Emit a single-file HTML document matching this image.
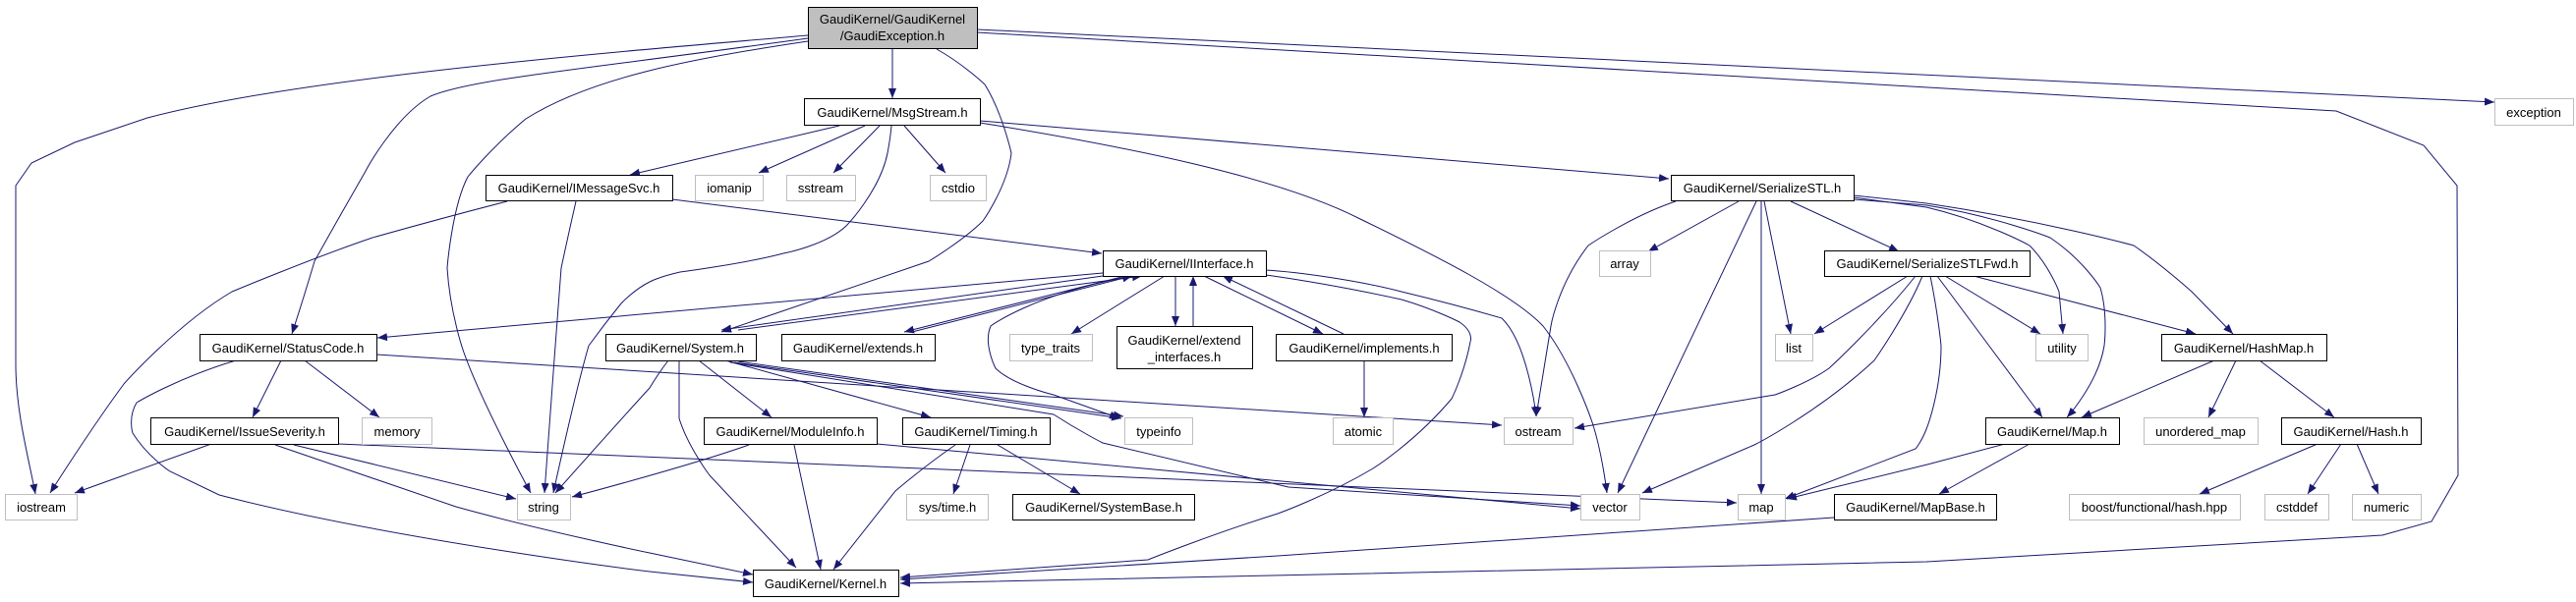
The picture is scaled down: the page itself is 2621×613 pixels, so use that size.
<!DOCTYPE html>
<html><head><meta charset="utf-8"><style>
html,body{margin:0;padding:0;background:#fff;}
svg{display:block;}
text{font-family:"Liberation Sans",Arial,sans-serif;font-size:13px;fill:#000;}
</style></head><body>
<svg width="2621" height="613" viewBox="0 0 2621 613" xmlns="http://www.w3.org/2000/svg">
<defs>
<marker id="a" viewBox="0 0 10 8" refX="10" refY="4" markerWidth="10" markerHeight="8" markerUnits="userSpaceOnUse" orient="auto">
<path d="M0,0 L10,4 L0,8 z" fill="#191970"/>
</marker>
</defs>
<g fill="none" stroke="#191970" stroke-width="1" marker-end="url(#a)">
<!-- Exception.h -->
<path d="M908,49 L908,100"/>
<path d="M822,36 C600,55 300,80 150,120 L76,145 L32,166 L16,189 L16,371 C16,420 30,470 36,503"/>
<path d="M822,42 C700,60 600,80 535,121 C500,150 476,180 476,180 C460,210 455,273 455,273 C458,320 472,359 472,359 C490,410 540,502 540,502"/>
<path d="M822,39 C600,70 480,80 438,98 C400,120 371,176 371,176 C340,230 320,266 320,266 C310,300 297,340 297,340"/>
<path d="M953,50 C980,65 1002,86 1002,86 C1020,115 1029,156 1029,156 C1025,190 1000,225 1000,225 C980,245 945,266 945,266 L734,338"/>
<path d="M994,30 L2538,104"/>
<path d="M994,33 L2377,113 L2466,148 L2500,189 L2501,484 L2474,531 L2424,545 L1960,572 L916,594"/>
<!-- MsgStream.h -->
<path d="M854,128 L641,178"/>
<path d="M880,128 L772,176"/>
<path d="M895,128 L848,176"/>
<path d="M920,128 L962,176"/>
<path d="M907,128 C906,140 903,156 903,156 C895,195 861,230 861,230 C840,250 797,258 797,258 C760,268 692,277 692,277 C670,282 661,287 661,287 C645,295 632,309 632,309 C615,330 599,352 599,352 C585,400 563,502 563,502"/>
<path d="M997,123 L1698,182"/>
<path d="M997,125 C1150,150 1300,180 1384,223 C1460,260 1540,300 1570,332 C1600,370 1620,430 1620,430 C1630,460 1635,502 1635,502"/>
<!-- IMessageSvc.h -->
<path d="M516,205 C450,222 379,242 379,242 C320,262 236,297 236,297 C180,330 126,391 126,391 C90,440 51,502 51,502"/>
<path d="M586,205 C578,240 571,273 571,273 C565,350 554,502 554,502"/>
<path d="M684,203 L1121,258"/>
<!-- IInterface.h -->
<path d="M1122,278 L384,344"/>
<path d="M1122,281 L734,336"/>
<path d="M751,336 L1162,281"/>
<path d="M1145,281 L920,338"/>
<path d="M928,338 L1152,281"/>
<path d="M1185,281 L1090,340"/>
<path d="M1196,281 L1196,332"/>
<path d="M1214,332 L1214,281"/>
<path d="M1225,281 L1346,340"/>
<path d="M1367,340 L1244,281"/>
<path d="M1152,281 C1050,300 1008,332 1008,332 C1000,350 1013,375 1013,375 C1030,392 1072,402 1072,402 L1139,426"/>
<path d="M1288,275 C1320,277 1380,285 1426,297 C1480,310 1528,324 1528,324 C1555,350 1563,424 1563,424"/>
<path d="M1288,280 C1360,290 1426,305 1426,305 C1460,315 1485,328 1485,328 C1500,338 1496,348 1496,348 C1490,380 1477,406 1477,406 C1440,450 1397,477 1397,477 C1350,505 1300,523 1300,523 C1230,545 1168,570 1168,570 L916,588"/>
<!-- StatusCode.h -->
<path d="M286,367 L257,425"/>
<path d="M310,367 L386,425"/>
<path d="M240,367 C180,385 139,410 139,410 C130,425 135,441 135,441 C150,465 173,480 173,480 L223,504 C400,550 661,582 661,582 L766,593"/>
<path d="M383,361 L1528,433"/>
<!-- IssueSeverity.h -->
<path d="M215,452 L76,502"/>
<path d="M299,453 L525,508"/>
<path d="M280,453 L464,516 C550,540 661,563 661,563 L766,585"/>
<path d="M344,452 L1767,512"/>
<!-- System.h -->
<path d="M680,367 C670,380 661,395 661,395 C620,440 565,502 565,502"/>
<path d="M691,367 C691,395 691,426 691,426 C700,455 722,484 722,484 L810,578"/>
<path d="M711,367 L785,425"/>
<path d="M738,367 L947,425"/>
<path d="M747,369 L1141,426"/>
<path d="M751,368 L1143,424"/>
<path d="M743,369 L1072,422 C1100,440 1122,451 1122,451 L1311,496 L1608,515"/>
<!-- ModuleInfo.h -->
<path d="M762,453 C700,475 582,506 582,506"/>
<path d="M808,453 L835,580"/>
<path d="M892,452 L1608,518"/>
<!-- Timing.h -->
<path d="M972,453 C940,475 911,500 911,500 L848,580"/>
<path d="M987,453 L970,503"/>
<path d="M1015,453 L1099,503"/>
<!-- implements -->
<path d="M1388,367 L1388,425"/>
<!-- SerializeSTL.h -->
<path d="M1769,205 L1677,256"/>
<path d="M1705,205 C1660,220 1616,250 1616,250 C1585,290 1578,332 1578,332 L1563,424"/>
<path d="M1787,205 L1646,502"/>
<path d="M1792,205 L1792,503"/>
<path d="M1795,205 L1822,340"/>
<path d="M1822,205 L1932,256"/>
<path d="M1886,201 L1960,211 C2020,225 2065,250 2065,250 C2085,270 2095,297 2095,297 L2099,340"/>
<path d="M1886,203 L1960,209 C2030,220 2086,242 2086,242 C2120,265 2137,293 2137,293 C2145,320 2141,352 2141,352 C2135,390 2103,425 2103,425"/>
<path d="M1886,199 L1960,207 C2080,225 2171,250 2171,250 C2200,270 2230,297 2230,297 L2272,340"/>
<!-- SerializeSTLFwd.h -->
<path d="M1941,281 L1846,340"/>
<path d="M1949,281 C1910,330 1861,375 1861,375 C1840,390 1806,402 1806,402 L1602,436"/>
<path d="M1956,281 C1940,320 1907,367 1907,367 C1850,420 1785,453 1785,453 L1671,502"/>
<path d="M1964,281 C1972,320 1975,352 1975,352 C1975,400 1960,437 1960,437 C1955,450 1949,457 1949,457 L1816,508"/>
<path d="M1979,281 L2076,340"/>
<path d="M1971,281 L2078,425"/>
<path d="M2008,281 L2234,340"/>
<!-- HashMap.h -->
<path d="M2253,367 L2118,425"/>
<path d="M2275,367 L2247,425"/>
<path d="M2299,367 L2375,425"/>
<!-- Map.h -->
<path d="M2040,452 L1961,473 L1818,508"/>
<path d="M2065,452 L1973,503"/>
<!-- MapBase.h -->
<path d="M1866,527 L1300,566 L916,590"/>
<!-- Hash.h -->
<path d="M2358,452 L2238,503"/>
<path d="M2382,452 L2348,503"/>
<path d="M2398,452 L2420,503"/>
</g>
<g stroke-width="1">
<!-- black boxes -->
<rect x="822.5" y="7.5" width="172" height="42" fill="#bfbfbf" stroke="#000"/>
<rect x="818.5" y="100.5" width="179" height="27" fill="#fff" stroke="#000"/>
<rect x="494.5" y="178.5" width="190" height="26" fill="#fff" stroke="#000"/>
<rect x="1122.5" y="255.5" width="166" height="26" fill="#fff" stroke="#000"/>
<rect x="203.5" y="340.5" width="180" height="27" fill="#fff" stroke="#000"/>
<rect x="616.5" y="340.5" width="153" height="27" fill="#fff" stroke="#000"/>
<rect x="795.5" y="340.5" width="156" height="27" fill="#fff" stroke="#000"/>
<rect x="1136.5" y="332.5" width="138" height="43" fill="#fff" stroke="#000"/>
<rect x="1298.5" y="340.5" width="179" height="27" fill="#fff" stroke="#000"/>
<rect x="153.5" y="425.5" width="191" height="27" fill="#fff" stroke="#000"/>
<rect x="716.5" y="425.5" width="176" height="27" fill="#fff" stroke="#000"/>
<rect x="918.5" y="425.5" width="150" height="27" fill="#fff" stroke="#000"/>
<rect x="1030.5" y="503.5" width="185" height="26" fill="#fff" stroke="#000"/>
<rect x="766.5" y="580.5" width="148" height="27" fill="#fff" stroke="#000"/>
<rect x="1700.5" y="178.5" width="186" height="26" fill="#fff" stroke="#000"/>
<rect x="1856.5" y="255.5" width="209" height="26" fill="#fff" stroke="#000"/>
<rect x="1866.5" y="503.5" width="165" height="26" fill="#fff" stroke="#000"/>
<rect x="2199.5" y="340.5" width="168" height="27" fill="#fff" stroke="#000"/>
<rect x="2020.5" y="425.5" width="136" height="27" fill="#fff" stroke="#000"/>
<rect x="2321.5" y="425.5" width="142" height="27" fill="#fff" stroke="#000"/>
<!-- gray boxes -->
<g fill="#fff" stroke="#bfbfbf">
<rect x="707.5" y="178.5" width="69" height="26"/>
<rect x="800.5" y="178.5" width="70" height="26"/>
<rect x="946.5" y="178.5" width="57" height="26"/>
<rect x="1027.5" y="340.5" width="84" height="27"/>
<rect x="368.5" y="425.5" width="71" height="27"/>
<rect x="1144.5" y="425.5" width="69" height="27"/>
<rect x="5.5" y="503.5" width="73" height="26"/>
<rect x="526.5" y="503.5" width="54" height="26"/>
<rect x="922.5" y="503.5" width="83" height="26"/>
<rect x="1627.5" y="255.5" width="52" height="26"/>
<rect x="1806.5" y="340.5" width="38" height="27"/>
<rect x="1356.5" y="425.5" width="61" height="27"/>
<rect x="1530.5" y="425.5" width="70" height="27"/>
<rect x="1608.5" y="503.5" width="60" height="26"/>
<rect x="1768.5" y="503.5" width="48" height="26"/>
<rect x="2071.5" y="340.5" width="53" height="27"/>
<rect x="2181.5" y="425.5" width="116" height="27"/>
<rect x="2105.5" y="503.5" width="174" height="26"/>
<rect x="2304.5" y="503.5" width="65" height="26"/>
<rect x="2393.5" y="503.5" width="70" height="26"/>
<rect x="2538.5" y="100.5" width="80" height="27"/>
</g>
</g>
<g text-anchor="middle">
<text x="908" y="24">GaudiKernel/GaudiKernel</text>
<text x="908" y="41">/GaudiException.h</text>
<text x="908" y="119">GaudiKernel/MsgStream.h</text>
<text x="589" y="196">GaudiKernel/IMessageSvc.h</text>
<text x="1205" y="273">GaudiKernel/IInterface.h</text>
<text x="293" y="359">GaudiKernel/StatusCode.h</text>
<text x="692" y="359">GaudiKernel/System.h</text>
<text x="873" y="359">GaudiKernel/extends.h</text>
<text x="1205" y="351">GaudiKernel/extend</text>
<text x="1205" y="368">_interfaces.h</text>
<text x="1388" y="359">GaudiKernel/implements.h</text>
<text x="249" y="444">GaudiKernel/IssueSeverity.h</text>
<text x="804" y="444">GaudiKernel/ModuleInfo.h</text>
<text x="993" y="444">GaudiKernel/Timing.h</text>
<text x="1123" y="521">GaudiKernel/SystemBase.h</text>
<text x="840" y="599">GaudiKernel/Kernel.h</text>
<text x="1793" y="196">GaudiKernel/SerializeSTL.h</text>
<text x="1961" y="273">GaudiKernel/SerializeSTLFwd.h</text>
<text x="1949" y="521">GaudiKernel/MapBase.h</text>
<text x="2283" y="359">GaudiKernel/HashMap.h</text>
<text x="2088" y="444">GaudiKernel/Map.h</text>
<text x="2392" y="444">GaudiKernel/Hash.h</text>
<text x="742" y="196">iomanip</text>
<text x="835" y="196">sstream</text>
<text x="975" y="196">cstdio</text>
<text x="1069" y="359">type_traits</text>
<text x="404" y="444">memory</text>
<text x="1179" y="444">typeinfo</text>
<text x="42" y="521">iostream</text>
<text x="553" y="521">string</text>
<text x="964" y="521">sys/time.h</text>
<text x="1653" y="273">array</text>
<text x="1825" y="359">list</text>
<text x="1387" y="444">atomic</text>
<text x="1565" y="444">ostream</text>
<text x="1638" y="521">vector</text>
<text x="1792" y="521">map</text>
<text x="2098" y="359">utility</text>
<text x="2239" y="444">unordered_map</text>
<text x="2192" y="521">boost/functional/hash.hpp</text>
<text x="2337" y="521">cstddef</text>
<text x="2428" y="521">numeric</text>
<text x="2578" y="119">exception</text>
</g>
</svg>
</body></html>
